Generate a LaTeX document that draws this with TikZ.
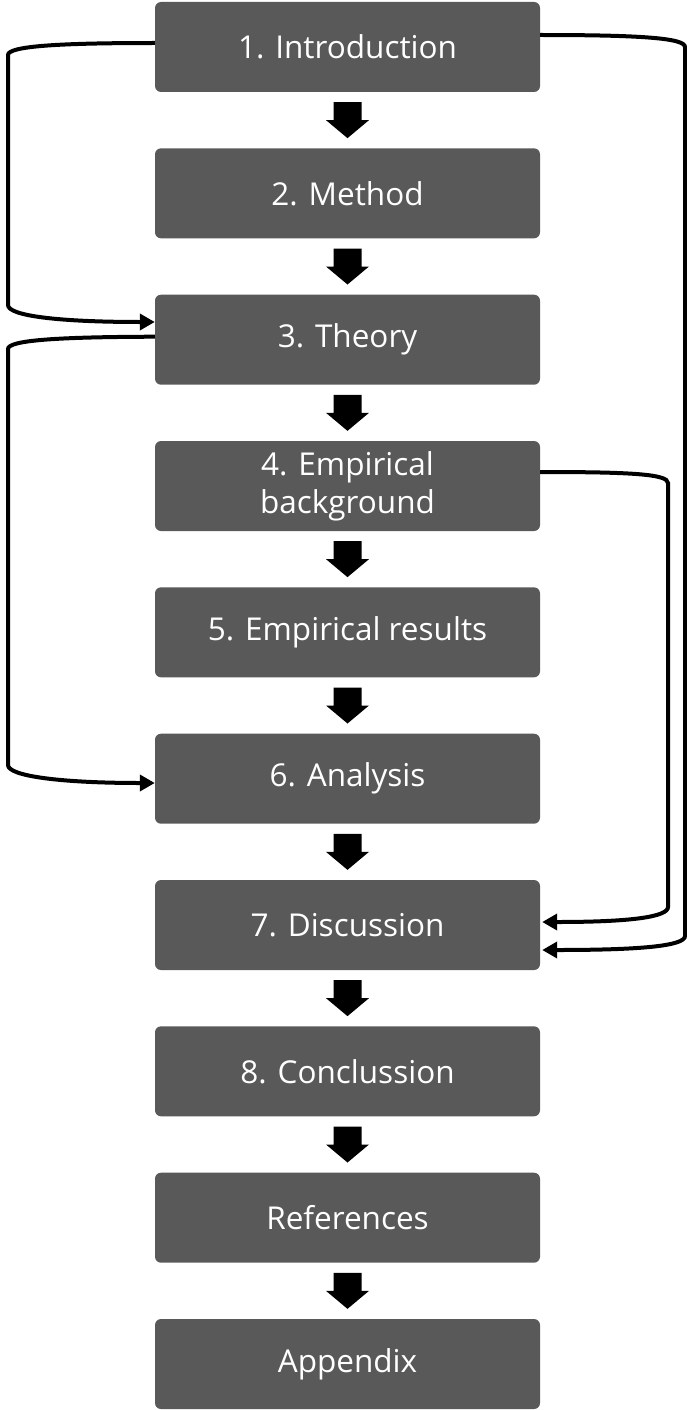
\documentclass[tikz,border=0pt]{standalone}
\usepackage{fontspec}
\setmainfont{Open Sans}
\usetikzlibrary{arrows.meta,calc}
\definecolor{boxgray}{HTML}{595959}
\begin{document}
\begin{tikzpicture}[x=1pt,y=-1pt,
  stepbox/.style={fill=boxgray,rounded corners=6pt,minimum width=385pt,minimum height=90pt,
    inner sep=0pt,text=white,align=center,
    font=\fontsize{31.5pt}{38pt}\selectfont},
  loopline/.style={line width=4pt,black},
  looparrow/.style={loopline,-{Triangle[length=15pt,width=16pt]}},
  blockfill/.style={fill=black}]
\useasboundingbox (0,0) rectangle (687,1410);

% chapter boxes
\node[stepbox] (b1) at (347.5,47.0)   {1. Introduction};
\node[stepbox] (b2) at (347.5,193.3)  {2. Method};
\node[stepbox] (b3) at (347.5,339.7)  {3. Theory};
\node[stepbox] (b4) at (347.5,486.0)  {4. Empirical\\background};
\node[stepbox] (b5) at (347.5,632.3)  {5. Empirical results};
\node[stepbox] (b6) at (347.5,778.7)  {6. Analysis};
\node[stepbox] (b7) at (347.5,925.0)  {7. Discussion};
\node[stepbox] (b8) at (347.5,1071.3) {8. Conclussion};
\node[stepbox] (b9) at (347.5,1217.7) {References};
\node[stepbox] (b10) at (347.5,1364.0) {Appendix};

% block arrows between consecutive boxes
\newcommand{\blockdown}[2]{%
  \path (#1.south) -- (#2.north) coordinate[pos=0.5] (mid#1);
  \fill[blockfill] ([shift={(-14,-18)}]mid#1) -- ([shift={(14,-18)}]mid#1)
     -- ([shift={(14,0)}]mid#1) -- ([shift={(21.5,0)}]mid#1)
     -- ([shift={(0,18)}]mid#1) -- ([shift={(-21.5,0)}]mid#1)
     -- ([shift={(-14,0)}]mid#1) -- cycle;}
\blockdown{b1}{b2}
\blockdown{b2}{b3}
\blockdown{b3}{b4}
\blockdown{b4}{b5}
\blockdown{b5}{b6}
\blockdown{b6}{b7}
\blockdown{b7}{b8}
\blockdown{b8}{b9}
\blockdown{b9}{b10}

% side loops
\draw[looparrow] ([yshift=4pt]b1.west) .. controls (60,43) and (8,46) .. (8,55)
  -- (8,305) .. controls (8,316) and (60,322) .. ([yshift=17.7pt]b3.west);
\draw[looparrow] ([yshift=3pt]b3.west) .. controls (60,337) and (8,340) .. (8,349)
  -- (8,765) .. controls (8,776) and (60,783) .. ([yshift=-4.3pt]b6.west);
\draw[looparrow] ([yshift=12pt]b1.east) .. controls (640,35) and (685,38) .. (685,47)
  -- (685,936) .. controls (685,946) and (640,950) .. ([shift={(2pt,-25pt)}]b7.east);
\draw[looparrow] ([yshift=14pt]b4.east) .. controls (630,472) and (668,474) .. (668,483)
  -- (668,907) .. controls (668,917) and (630,922) .. ([shift={(2pt,3pt)}]b7.east);
\end{tikzpicture}
\end{document}
